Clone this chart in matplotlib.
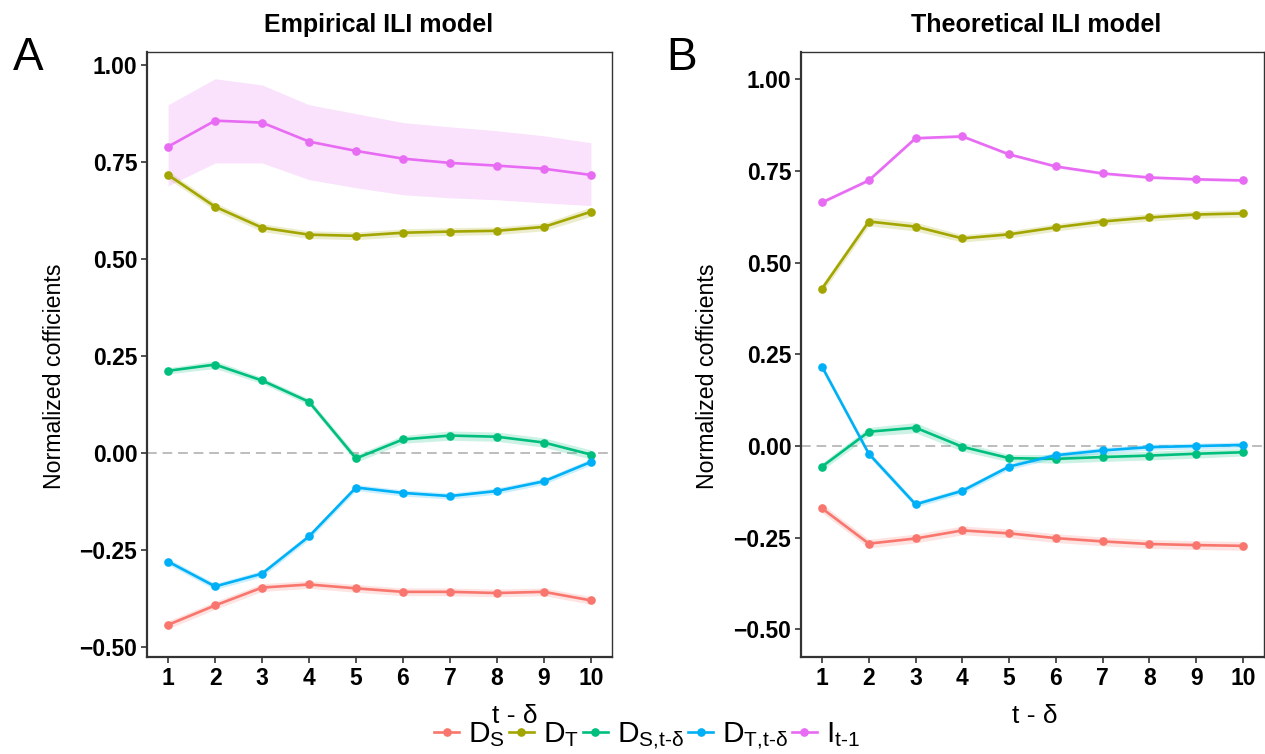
import matplotlib
matplotlib.use("Agg")
import matplotlib.pyplot as plt
from matplotlib.lines import Line2D

plt.rcParams["font.family"] = ["Liberation Sans", "DejaVu Sans"]
plt.rcParams["mathtext.fontset"] = "custom"
plt.rcParams["mathtext.rm"] = "Liberation Sans"
plt.rcParams["mathtext.it"] = "Liberation Sans"

# data
lags = [1, 2, 3, 4, 5, 6, 7, 8, 9, 10]

emp_ds = [-0.444, -0.394, -0.348, -0.340, -0.350, -0.359, -0.359, -0.362, -0.359, -0.381]
emp_dt = [0.716, 0.634, 0.580, 0.562, 0.559, 0.567, 0.570, 0.572, 0.582, 0.621]
emp_dst = [0.211, 0.227, 0.186, 0.131, -0.015, 0.034, 0.044, 0.041, 0.026, -0.005]
emp_dtt = [-0.281, -0.345, -0.312, -0.216, -0.090, -0.104, -0.112, -0.099, -0.074, -0.024]
emp_i = [0.789, 0.856, 0.851, 0.802, 0.778, 0.758, 0.747, 0.740, 0.732, 0.716]
emp_i_lo = [0.688, 0.747, 0.747, 0.704, 0.683, 0.665, 0.657, 0.652, 0.644, 0.637]
emp_i_hi = [0.897, 0.964, 0.948, 0.897, 0.874, 0.851, 0.840, 0.830, 0.817, 0.799]
# half-widths of the narrow ribbons
emp_ds_ci = [0.010, 0.010, 0.010, 0.010, 0.010, 0.010, 0.010, 0.010, 0.010, 0.010]
emp_dt_ci = [0.010, 0.010, 0.010, 0.010, 0.010, 0.010, 0.010, 0.010, 0.010, 0.012]
emp_dst_ci = [0.008, 0.010, 0.008, 0.008, 0.010, 0.010, 0.012, 0.012, 0.012, 0.012]
emp_dtt_ci = [0.008, 0.008, 0.008, 0.008, 0.008, 0.008, 0.008, 0.008, 0.008, 0.008]

theo_ds = [-0.170, -0.266, -0.252, -0.230, -0.238, -0.251, -0.260, -0.267, -0.270, -0.272]
theo_dt = [0.429, 0.612, 0.598, 0.566, 0.577, 0.596, 0.612, 0.623, 0.631, 0.634]
theo_dst = [-0.056, 0.039, 0.050, -0.002, -0.033, -0.035, -0.030, -0.026, -0.021, -0.017]
theo_dtt = [0.216, -0.021, -0.159, -0.122, -0.056, -0.025, -0.012, -0.003, 0.000, 0.003]
theo_i = [0.664, 0.724, 0.839, 0.844, 0.795, 0.762, 0.743, 0.732, 0.727, 0.724]
theo_ds_ci = [0.012, 0.012, 0.012, 0.012, 0.012, 0.012, 0.012, 0.012, 0.012, 0.012]
theo_dt_ci = [0.012, 0.012, 0.012, 0.010, 0.010, 0.010, 0.010, 0.010, 0.010, 0.010]
theo_dst_ci = [0.010, 0.012, 0.014, 0.012, 0.010, 0.012, 0.012, 0.012, 0.012, 0.010]
theo_dtt_ci = [0.008, 0.008, 0.008, 0.008, 0.008, 0.008, 0.008, 0.008, 0.008, 0.008]
theo_i_ci = [0.004, 0.004, 0.004, 0.004, 0.004, 0.004, 0.004, 0.004, 0.004, 0.004]

colors = ["#F8766D", "#A3A500", "#00BF7D", "#00B0F6", "#E76BF3"]
labels = [r"$\mathrm{D}_{\mathrm{S}}$", r"$\mathrm{D}_{\mathrm{T}}$",
          r"$\mathrm{D}_{\text{S,t-δ}}$", r"$\mathrm{D}_{\text{T,t-δ}}$",
          r"$\mathrm{I}_{\text{t-1}}$"]

W, H = 1265, 754
fig = plt.figure(figsize=(W / 100, H / 100), dpi=100)


def px_axes(x0, x1, y0, y1):
    return fig.add_axes([x0 / W, 1 - y1 / H, (x1 - x0) / W, (y1 - y0) / H])


def style(ax, ylim):
    ax.set_xlim(0.55, 10.45)
    ax.set_ylim(*ylim)
    ax.set_xticks(lags)
    ax.set_yticks([-0.5, -0.25, 0, 0.25, 0.5, 0.75, 1.0])
    ax.set_yticklabels(["\u22120.50", "\u22120.25", "0.00", "0.25", "0.50", "0.75", "1.00"])
    for s in ["top", "right"]:
        ax.spines[s].set_linewidth(1.0)
        ax.spines[s].set_color("#333333")
    for s in ["left", "bottom"]:
        ax.spines[s].set_linewidth(1.6)
        ax.spines[s].set_color("#333333")
    ax.tick_params(direction="out", length=4, width=1.2, color="#333333",
                   labelsize=16.5, pad=3)
    for lab in ax.get_xticklabels() + ax.get_yticklabels():
        lab.set_fontweight("bold")
        lab.set_color("black")
    ax.axhline(0, color="#BDBDBD", linestyle=(0, (5, 3)), linewidth=1.4, zorder=1)


def draw(ax, series, bands):
    for (y, c), (lo, hi) in zip(zip(series, colors), bands):
        ax.fill_between(lags, lo, hi, color=c, alpha=0.2, linewidth=0, zorder=2)
        ax.plot(lags, y, color=c, linewidth=1.9, marker="o", markersize=5.2, zorder=3)


def around(y, ci):
    return [a - b for a, b in zip(y, ci)], [a + b for a, b in zip(y, ci)]


# Panel A
ax1 = px_axes(147, 612, 52, 657)
style(ax1, (-0.527, 1.033))
draw(ax1, [emp_ds, emp_dt, emp_dst, emp_dtt, emp_i],
     [around(emp_ds, emp_ds_ci), around(emp_dt, emp_dt_ci),
      around(emp_dst, emp_dst_ci), around(emp_dtt, emp_dtt_ci),
      (emp_i_lo, emp_i_hi)])

# Panel B
ax2 = px_axes(801, 1264, 52, 657)
style(ax2, (-0.575, 1.074))
draw(ax2, [theo_ds, theo_dt, theo_dst, theo_dtt, theo_i],
     [around(theo_ds, theo_ds_ci), around(theo_dt, theo_dt_ci),
      around(theo_dst, theo_dst_ci), around(theo_dtt, theo_dtt_ci),
      around(theo_i, theo_i_ci)])

# titles, axis labels and panel letters
fig.text(379 / W, 1 - 25 / H, "Empirical ILI model", ha="center", va="center",
         fontsize=18, fontweight="bold")
fig.text(1036 / W, 1 - 25 / H, "Theoretical ILI model", ha="center", va="center",
         fontsize=18, fontweight="bold")
fig.text(55 / W, 1 - 376 / H, "Normalized cofficients", rotation=90,
         ha="center", va="center", fontsize=16.7)
fig.text(707 / W, 1 - 376 / H, "Normalized cofficients", rotation=90,
         ha="center", va="center", fontsize=16.7)
fig.text(515 / W, 1 - 716 / H, "t - δ", ha="center", va="center", fontsize=19)
fig.text(1035 / W, 1 - 716 / H, "t - δ", ha="center", va="center", fontsize=19)
fig.text(28 / W, 1 - 58 / H, "A", ha="center", va="center", fontsize=33)
fig.text(682 / W, 1 - 58 / H, "B", ha="center", va="center", fontsize=33)

handles = [Line2D([0], [0], color=c, linewidth=1.9, marker="o", markersize=5.2)
           for c in colors]
fig.legend(handles, labels, loc="center", bbox_to_anchor=(647 / W, 1 - 736 / H),
           ncol=5, frameon=False, fontsize=21.5, handlelength=0.85,
           handletextpad=0.3, columnspacing=0.12, borderpad=0)

fig.savefig("out.png", dpi=100)
